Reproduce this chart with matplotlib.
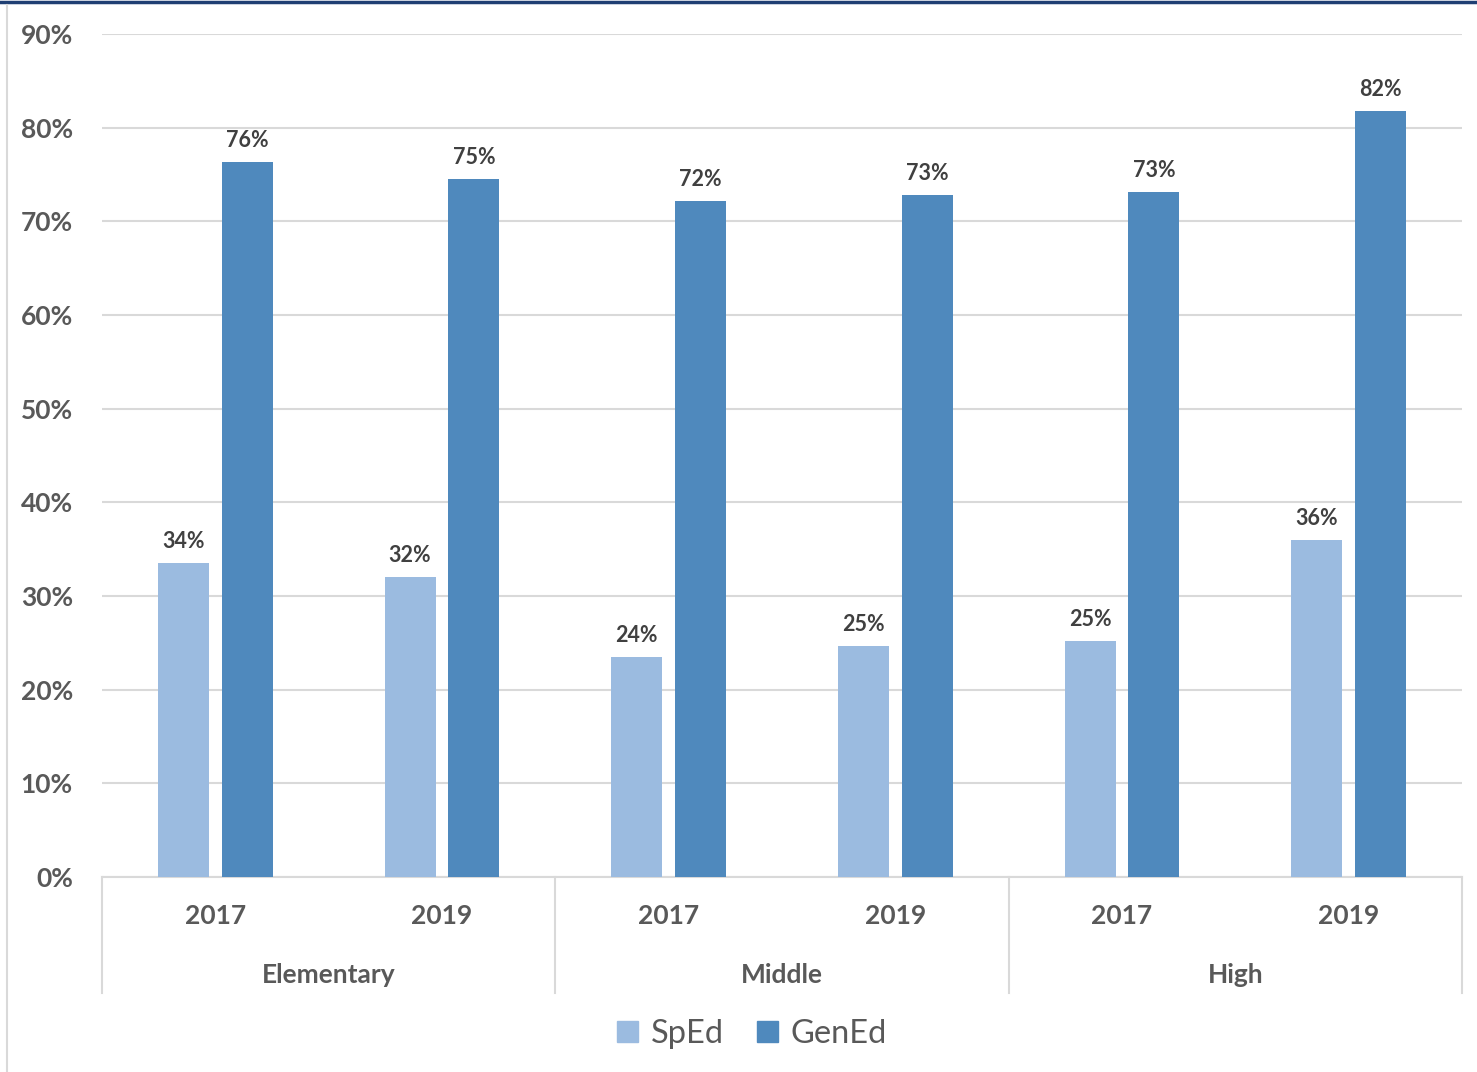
import matplotlib
matplotlib.use("Agg")
import matplotlib.pyplot as plt
from matplotlib.patches import Patch
from matplotlib.lines import Line2D
import numpy as np

years = ["2017", "2019", "2017", "2019", "2017", "2019"]
groups = ["Elementary", "Middle", "High"]
sped = [33.5, 32.0, 23.5, 24.7, 25.2, 36.0]
gened = [76.3, 74.5, 72.2, 72.8, 73.1, 81.8]
sped_labels = ["34%", "32%", "24%", "25%", "25%", "36%"]
gened_labels = ["76%", "75%", "72%", "73%", "73%", "82%"]
yticks = [0, 10, 20, 30, 40, 50, 60, 70, 80, 90]

C_SP = "#9BBBE0"
C_GE = "#4F89BD"
TXT = "#595959"
GRID = "#D9D9D9"
FONT = "Lato"

W, H = 1477, 1072
fig = plt.figure(figsize=(W / 100, H / 100), dpi=100)
ax = fig.add_axes([102 / W, 1 - 877 / H, (1462 - 102) / W, (877 - 34) / H])

x = np.arange(len(years))
bw = 0.225
off = 0.141
b1 = ax.bar(x - off, sped, bw, color=C_SP, zorder=3)
b2 = ax.bar(x + off, gened, bw, color=C_GE, zorder=3)

for bars, labs in ((b1, sped_labels), (b2, gened_labels)):
    for r, l in zip(bars, labs):
        ax.annotate(l, (r.get_x() + r.get_width() / 2, r.get_height()),
                    xytext=(0, 8), textcoords="offset points",
                    ha="center", va="bottom", fontsize=15.5, fontweight="bold",
                    color="#404040", family=FONT)

ax.set_xlim(-0.5, 5.5)
ax.set_ylim(0, 90)
ax.set_yticks(yticks)
ax.set_yticklabels([f"{v}%" for v in yticks], fontsize=19, fontweight="bold",
                   color=TXT, family=FONT)
ax.tick_params(axis="y", length=0, pad=21)
ax.set_xticks([])
ax.grid(axis="y", color=GRID, lw=1.5, zorder=0)
for s in ("top", "right", "left"):
    ax.spines[s].set_visible(False)
ax.spines["bottom"].set_color(GRID)
ax.spines["bottom"].set_linewidth(1.5)

trans = ax.get_xaxis_transform()
axh = 877 - 34
for i, y in enumerate(years):
    ax.text(i, (877 - 916) / axh, y, transform=trans, ha="center", va="center",
            fontsize=19, fontweight="bold", color=TXT, family=FONT)
for g, name in enumerate(groups):
    ax.text(2 * g + 0.5, (877 - 975) / axh, name, transform=trans, ha="center",
            va="center", fontsize=19, fontweight="bold", color=TXT, family=FONT)
for sx in (-0.5, 1.5, 3.5, 5.5):
    ax.add_line(Line2D([sx, sx], [0, (877 - 993) / axh], transform=trans,
                       color=GRID, lw=1.5, clip_on=False))

handles = [Patch(color=C_SP, label="SpEd"), Patch(color=C_GE, label="GenEd")]
leg = fig.legend(handles=handles, loc="center", bbox_to_anchor=(752 / W, 1 - 1034 / H),
                 ncol=2, frameon=False, handlelength=0.65, handleheight=0.65,
                 handletextpad=0.4, columnspacing=1.0,
                 prop={"family": FONT, "size": 23.5})
for t in leg.get_texts():
    t.set_color(TXT)

# frame borders
fig.add_artist(Line2D([0, 1], [1 - 1.5 / H, 1 - 1.5 / H], transform=fig.transFigure,
                      color="#1F3F73", lw=2.5))
fig.add_artist(Line2D([7.5 / W, 7.5 / W], [0, 1 - 5 / H], transform=fig.transFigure,
                      color=GRID, lw=1.5))

fig.savefig("out.png", dpi=100)
